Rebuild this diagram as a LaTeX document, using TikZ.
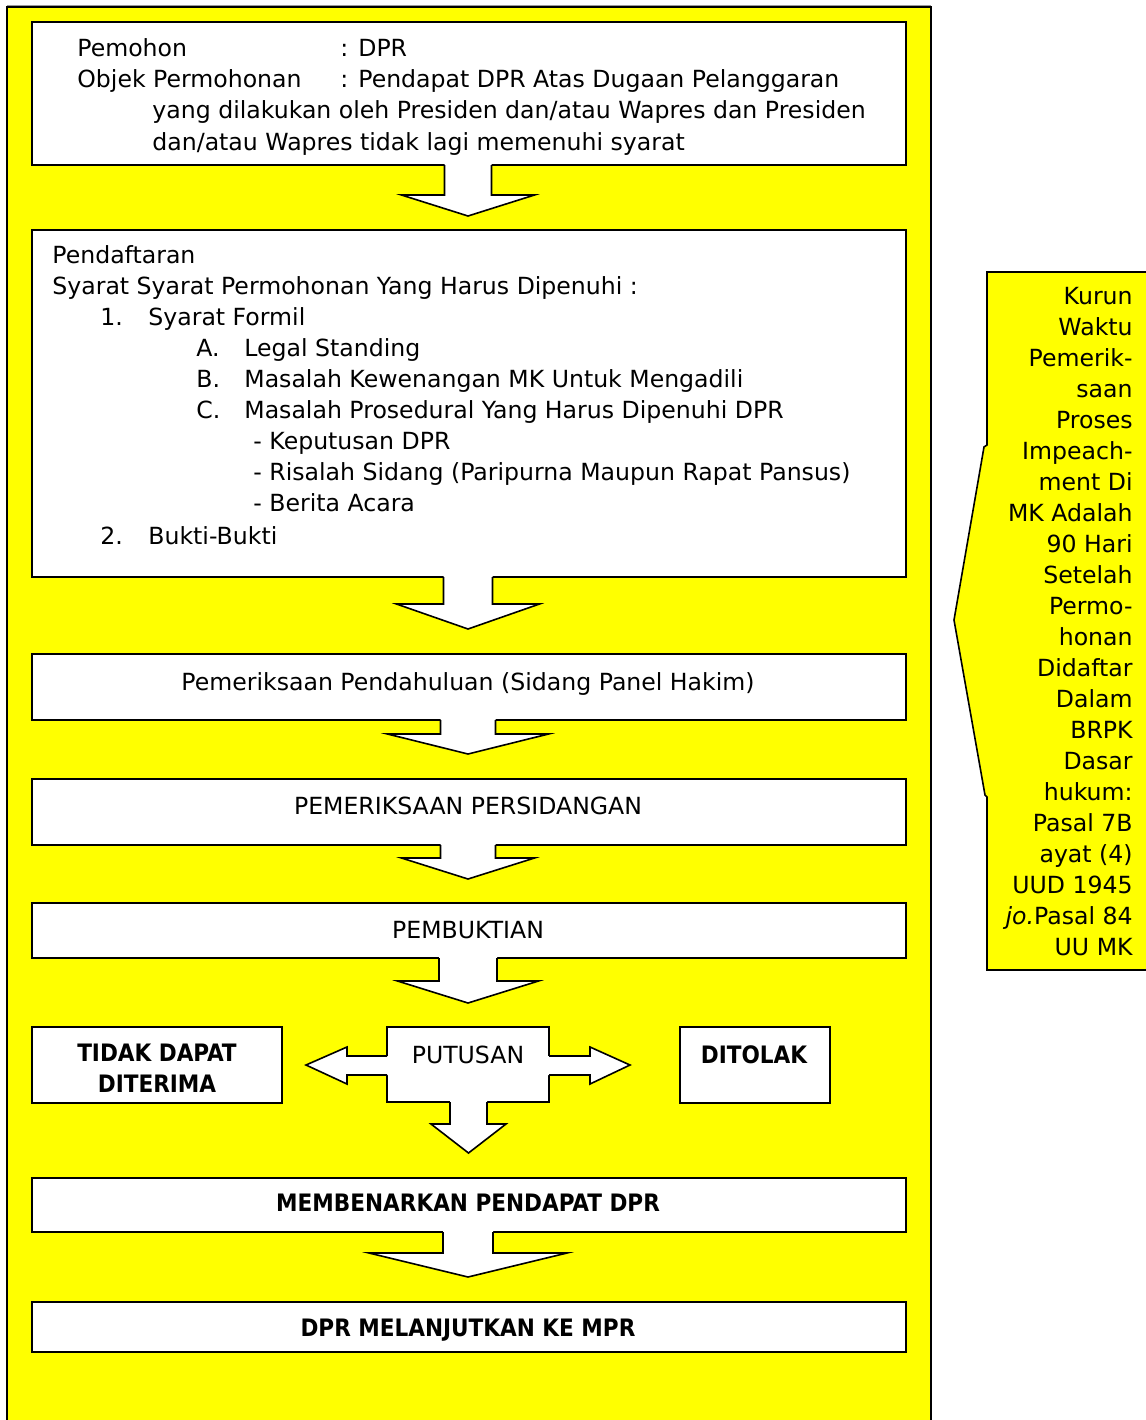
\documentclass[tikz,border=0pt]{standalone}
\usepackage{fontspec}
\setmainfont{DejaVu Sans}[BoldFont={DejaVu Sans Condensed Bold}]
\usetikzlibrary{shadows}
\definecolor{bgyellow}{HTML}{FFFF00}
\tikzset{
  panel/.style={draw=black, line width=0.8pt, fill=white,
    drop shadow={shadow xshift=0.7pt, shadow yshift=-0.7pt, fill=black!70, opacity=1}},
  txt/.style={anchor=base west, inner sep=0pt},
  ctxt/.style={anchor=base, inner sep=0pt},
  btxt/.style={anchor=base, inner sep=0pt, font=\bfseries\fontsize{12}{15.5}\selectfont, align=center},
}
% block arrow pointing down: x, top, head, tip, shaft half width, head half width
\newcommand{\blockdown}[6]{%
  \fill[white] (#1-#5,#2-2) -- (#1-#5,#3) -- (#1-#6,#3) -- (#1,#4) -- (#1+#6,#3) -- (#1+#5,#3) -- (#1+#5,#2-2) -- cycle;
  \draw[line width=0.8pt, line join=miter] (#1-#5,#2) -- (#1-#5,#3) -- (#1-#6,#3) -- (#1,#4) -- (#1+#6,#3) -- (#1+#5,#3) -- (#1+#5,#2);
}
\begin{document}
\begin{tikzpicture}[x=0.5pt, y=-0.5pt, font=\fontsize{11.8}{15.5}\selectfont]
  \useasboundingbox (0,0) rectangle (1146,1420);
  % Background panels
  \draw[fill=bgyellow, line width=0.8pt, drop shadow={shadow xshift=0pt, shadow yshift=1pt, fill=black!40, opacity=1}] (7,7) rectangle (931,1430);
  \draw[fill=bgyellow, line width=0.8pt] (1150,272) -- (987,272) -- (987,445) -- (984,447) -- (954,620) -- (985,795) -- (987,797) -- (987,970) -- (1150,970);
  % Draw the boxes
  \draw[panel] (32,22) rectangle (906,165);
  \draw[panel] (32,230) rectangle (906,577);
  \draw[panel] (32,654) rectangle (906,720);
  \draw[panel] (32,779) rectangle (906,845);
  \draw[panel] (32,903) rectangle (906,958);
  \draw[panel] (32,1027) rectangle (282,1103);
  \draw[panel] (387,1027) rectangle (549,1102);
  \draw[panel] (680,1027) rectangle (830,1103);
  \draw[panel] (32,1178) rectangle (906,1232);
  \draw[panel] (32,1302) rectangle (906,1352);
  % Draw the arrows
  \blockdown{468}{165}{195}{216}{23.5}{66.5}
  \blockdown{468}{577}{604}{629}{24.5}{71.5}
  \blockdown{468}{720}{734}{754}{27.5}{80.5}
  \blockdown{468}{845}{858}{879}{27.5}{66.5}
  \blockdown{468}{958}{981}{1003}{29}{70.5}
  \blockdown{468.5}{1102}{1124}{1153}{18.5}{37.5}
  \blockdown{468}{1232}{1253}{1277}{25}{99}
  \fill[white] (389,1056) -- (347,1056) -- (347,1047) -- (306,1065) -- (347,1084) -- (347,1075) -- (389,1075) -- cycle;
  \draw[line width=0.8pt] (387,1056) -- (347,1056) -- (347,1047) -- (306,1065) -- (347,1084) -- (347,1075) -- (387,1075);
  \fill[white] (547,1056) -- (590,1056) -- (590,1047) -- (630,1065) -- (590,1084) -- (590,1075) -- (547,1075) -- cycle;
  \draw[line width=0.8pt] (549,1056) -- (590,1056) -- (590,1047) -- (630,1065) -- (590,1084) -- (590,1075) -- (549,1075);
  % Texts of the first box
  \node[txt] (pemohon) at (77,56) {Pemohon};
  \node[txt] (pemohonval) at (340,56) {: DPR};
  \node[txt] (objek) at (77,87) {Objek Permohonan};
  \node[txt] (objekval) at (340,87) {: Pendapat DPR Atas Dugaan Pelanggaran};
  \node[txt] (objek2) at (152,118) {yang dilakukan oleh Presiden dan/atau Wapres dan Presiden};
  \node[txt] (objek3) at (152,150) {dan/atau Wapres tidak lagi memenuhi syarat};
  % Texts of the second box
  \node[txt] (daftar) at (52,263) {Pendaftaran};
  \node[txt] (syarat) at (52,294) {Syarat Syarat Permohonan Yang Harus Dipenuhi :};
  \node[txt] (n1) at (100,325) {1.};
  \node[txt] (formil) at (148,325) {Syarat Formil};
  \node[txt] (na) at (196,356) {A.};
  \node[txt] (legal) at (244,356) {Legal Standing};
  \node[txt] (nb) at (196,387) {B.};
  \node[txt] (wenang) at (244,387) {Masalah Kewenangan MK Untuk Mengadili};
  \node[txt] (nc) at (196,418) {C.};
  \node[txt] (prosedur) at (244,418) {Masalah Prosedural Yang Harus Dipenuhi DPR};
  \node[txt] (keputusan) at (253,449) {- Keputusan DPR};
  \node[txt] (risalah) at (253,480) {- Risalah Sidang (Paripurna Maupun Rapat Pansus)};
  \node[txt] (berita) at (253,511) {- Berita Acara};
  \node[txt] (n2) at (100,544) {2.};
  \node[txt] (bukti) at (148,544) {Bukti-Bukti};
  % Texts of the other boxes
  \node[ctxt] (pendahuluan) at (468,690) {Pemeriksaan Pendahuluan (Sidang Panel Hakim)};
  \node[ctxt] (persidangan) at (468,814) {PEMERIKSAAN PERSIDANGAN};
  \node[ctxt] (pembuktian) at (468,938) {PEMBUKTIAN};
  \node[ctxt] (putusan) at (468,1063) {PUTUSAN};
  \node[btxt] (tidak) at (157,1092) {TIDAK DAPAT\\DITERIMA};
  \node[btxt] (ditolak) at (754,1063) {DITOLAK};
  \node[btxt] (benar) at (468,1211) {MEMBENARKAN PENDAPAT DPR};
  \node[btxt] (mpr) at (468,1336) {DPR MELANJUTKAN KE MPR};
  % Text of the time limit
  \node[anchor=north east, align=right, inner sep=0pt] (kurun) at (1133,287)
    {Kurun\\Waktu\\Pemerik-\\saan\\Proses\\Impeach-\\ment Di\\MK Adalah\\90 Hari\\Setelah\\Permo-\\honan\\Didaftar\\Dalam\\BRPK\\Dasar\\hukum:\\Pasal 7B\\ayat (4)\\UUD 1945\\\textit{jo.}Pasal 84\\UU MK};
\end{tikzpicture}
\end{document}
